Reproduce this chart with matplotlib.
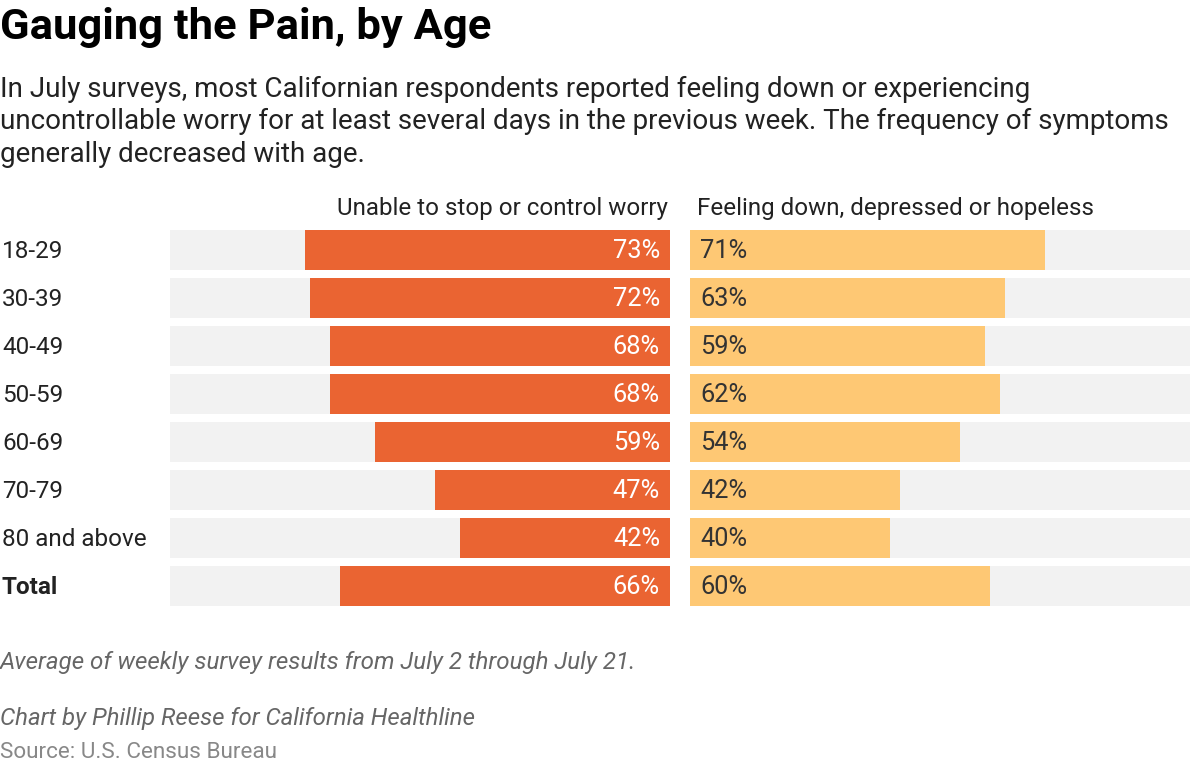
import matplotlib
matplotlib.use("Agg")
import matplotlib.pyplot as plt

plt.rcParams['font.family'] = ['Roboto', 'DejaVu Sans']

categories = ["18-29", "30-39", "40-49", "50-59", "60-69", "70-79", "80 and above", "Total"]
worry = [73, 72, 68, 68, 59, 47, 42, 66]
down = [71, 63, 59, 62, 54, 42, 40, 60]
series_names = ["Unable to stop or control worry", "Feeling down, depressed or hopeless"]

W, H = 1200, 766
fig = plt.figure(figsize=(W / 100, H / 100), dpi=100)
fig.patch.set_facecolor("white")

def ax_rect(x0, x1, y0, y1):
    return [x0 / W, 1 - y1 / H, (x1 - x0) / W, (y1 - y0) / H]

ORANGE = "#EA6432"
YELLOW = "#FEC874"
BG = "#F2F2F2"

top_px, bot_px = 226, 610
axL = fig.add_axes(ax_rect(170, 670, top_px, bot_px))
axR = fig.add_axes(ax_rect(690, 1190, top_px, bot_px))

ypos = list(range(len(categories)))
bh = 40 / 48

for ax, vals, col, inv in [(axL, worry, ORANGE, True), (axR, down, YELLOW, False)]:
    ax.barh(ypos, [100] * len(vals), height=bh, color=BG, linewidth=0)
    ax.barh(ypos, vals, height=bh, color=col, linewidth=0)
    ax.set_xlim(100, 0) if inv else ax.set_xlim(0, 100)
    ax.set_ylim(len(categories) - 0.5, -0.5)
    ax.axis("off")

for i, v in enumerate(worry):
    axL.annotate(f"{v}%", xy=(0, i), xytext=(-10, -1), textcoords="offset pixels",
                 ha="right", va="center", fontsize=18.3, color="white")
for i, v in enumerate(down):
    axR.annotate(f"{v}%", xy=(0, i), xytext=(10, -1), textcoords="offset pixels",
                 ha="left", va="center", fontsize=18.3, color="#333333")

for i, c in enumerate(categories):
    axL.annotate(c, xy=(100, i), xytext=(-168, -1), textcoords="offset pixels",
                 ha="left", va="center", fontsize=17.5, color="#222222",
                 fontweight="bold" if c == "Total" else "normal")

def ftext(x, y, s, **kw):
    fig.text(x / W, 1 - y / H, s, **kw)

ftext(668, 208, series_names[0], ha="right", va="center", fontsize=17.4, color="#222222")
ftext(697, 208, series_names[1], ha="left", va="center", fontsize=17.4, color="#222222")

ftext(0, 27, "Gauging the Pain, by Age", ha="left", va="center", fontsize=31.3,
      fontweight="bold", color="#000000")
sub = ["In July surveys, most Californian respondents reported feeling down or experiencing",
       "uncontrollable worry for at least several days in the previous week. The frequency of symptoms",
       "generally decreased with age."]
for y, line in zip([89, 121, 154], sub):
    ftext(0, y, line, ha="left", va="center", fontsize=20, color="#222222")

ftext(0, 662, "Average of weekly survey results from July 2 through July 21.", ha="left",
      va="center", fontsize=17.4, style="italic", color="#666666")
ftext(0, 718, "Chart by Phillip Reese for California Healthline", ha="left",
      va="center", fontsize=17.3, style="italic", color="#666666")
ftext(0, 753, "Source: U.S. Census Bureau", ha="left", va="center", fontsize=16.2,
      color="#888888")

fig.savefig("out.png", dpi=100, facecolor="white")
